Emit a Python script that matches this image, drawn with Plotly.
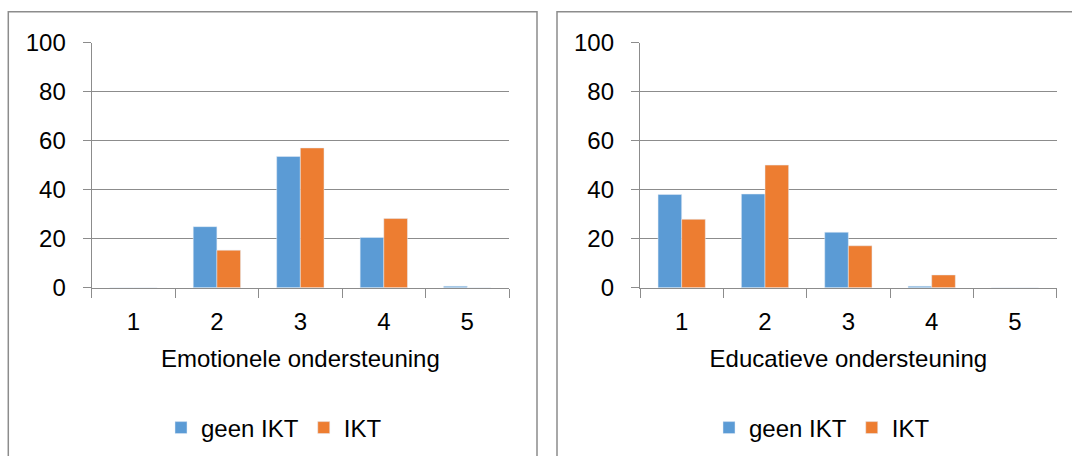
import plotly.graph_objects as go

W, H = 1072, 456

categories = ["1", "2", "3", "4", "5"]
series_names = ["geen IKT", "IKT"]
emotionele_geen_ikt = [0, 24.9, 53.5, 20.5, 0.6]
emotionele_ikt = [0, 15.3, 57.0, 28.2, 0]
educatieve_geen_ikt = [38.0, 38.2, 22.6, 0.6, 0]
educatieve_ikt = [27.9, 50.0, 17.1, 5.2, 0]
y_ticks = [0, 20, 40, 60, 80, 100]
x_titles = ["Emotionele ondersteuning", "Educatieve ondersteuning"]

BLUE = "#5B9BD5"
ORANGE = "#ED7D31"
GRAY = "#8c8c8c"
FONT = "Liberation Sans"
FS = 24


def px_x(p):
    return p / W


def px_y(p):
    return 1 - p / H


fig = go.Figure()

panels = [
    (emotionele_geen_ikt, emotionele_ikt, "x", "y", "legend"),
    (educatieve_geen_ikt, educatieve_ikt, "x2", "y2", "legend2"),
]
for geen, ikt, xa, ya, lg in panels:
    fig.add_trace(go.Bar(x=categories, y=geen, name=series_names[0], marker_color=BLUE,
                         xaxis=xa, yaxis=ya, legend=lg))
    fig.add_trace(go.Bar(x=categories, y=ikt, name=series_names[1], marker_color=ORANGE,
                         xaxis=xa, yaxis=ya, legend=lg))

y_top, y_bot = 42.5, 287.7
x_domains = [(91.7, 509.0), (640.0, 1056.7)]

def xaxis_cfg(dom, title, anchor):
    return dict(
        domain=[px_x(dom[0]), px_x(dom[1])], anchor=anchor, type="category",
        range=[-0.5, 4.5], tickson="boundaries", ticks="outside", ticklen=9,
        tickcolor=GRAY, tickwidth=1.3, showline=True, linecolor=GRAY, linewidth=1.3,
        showgrid=False, zeroline=False, fixedrange=True, automargin=False,
        ticklabelstandoff=12,
        tickfont=dict(family=FONT, size=FS, color="black"),
        title=dict(text=title, font=dict(family=FONT, size=FS, color="black"), standoff=16),
    )

def yaxis_cfg(anchor):
    return dict(
        domain=[px_y(y_bot), px_y(y_top)], anchor=anchor, range=[0, 100],
        tickvals=y_ticks, ticks="outside", ticklen=8, tickcolor=GRAY, tickwidth=1.3,
        showline=True, linecolor=GRAY, linewidth=1.3, showgrid=True, gridcolor=GRAY,
        gridwidth=1.3, zeroline=False, fixedrange=True, automargin=False,
        ticklabelstandoff=12,
        tickfont=dict(family=FONT, size=FS, color="black"),
    )

legend_common = dict(orientation="h", xanchor="center", yanchor="middle",
                     font=dict(family=FONT, size=FS, color="black"),
                     bgcolor="rgba(0,0,0,0)", traceorder="normal")

fig.update_layout(
    width=W, height=H, autosize=False,
    margin=dict(l=0, r=0, t=0, b=0, pad=0, autoexpand=False),
    paper_bgcolor="white", plot_bgcolor="white",
    barmode="group", bargap=0.433, bargroupgap=0,
    font=dict(family=FONT, size=FS, color="black"),
    xaxis=xaxis_cfg(x_domains[0], x_titles[0], "y"),
    yaxis=yaxis_cfg("x"),
    xaxis2=xaxis_cfg(x_domains[1], x_titles[1], "y2"),
    yaxis2=yaxis_cfg("x2"),
    legend=dict(x=px_x(274), y=px_y(428), **legend_common),
    legend2=dict(x=px_x(822), y=px_y(428), **legend_common),
    shapes=[
        dict(type="rect", xref="paper", yref="paper", x0=px_x(8.3), x1=px_x(537),
             y0=-0.05, y1=px_y(11.7), line=dict(color=GRAY, width=1.5), layer="below"),
        dict(type="rect", xref="paper", yref="paper", x0=px_x(557), x1=1.05,
             y0=-0.05, y1=px_y(11.7), line=dict(color=GRAY, width=1.5), layer="below"),
    ],
)

fig.write_html("out.html", config={"displayModeBar": False},
               post_script="document.body.style.margin='0';")
